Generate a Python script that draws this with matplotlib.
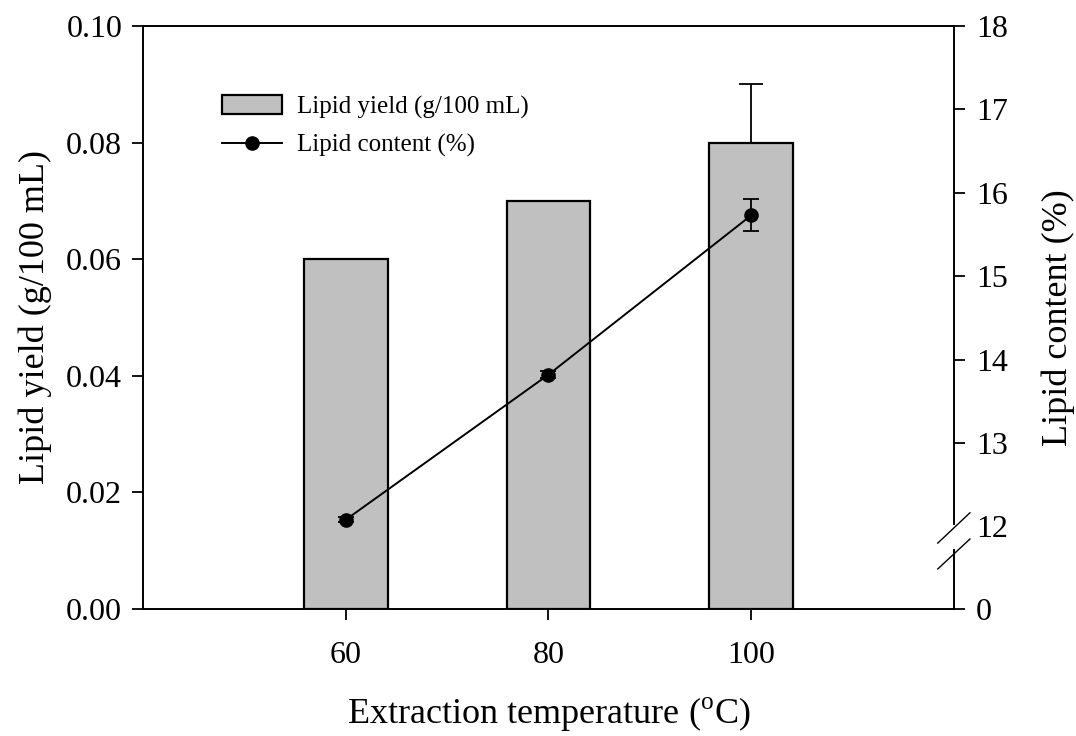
import numpy as np
import matplotlib
matplotlib.use('Agg')
import matplotlib.pyplot as plt
from matplotlib.lines import Line2D
from matplotlib.patches import Patch

plt.rcParams['font.family'] = ['Liberation Serif', 'DejaVu Serif']
plt.rcParams['mathtext.fontset'] = 'custom'
plt.rcParams['mathtext.rm'] = 'Liberation Serif'

# data
temps = [60, 80, 100]
yield_vals = [0.06, 0.07, 0.08]
yield_err = [0.0, 0.0, 0.01]
content_vals = [12.08, 13.82, 15.73]
content_err = [0.03, 0.04, 0.19]
right_ticks = [13, 14, 15, 16, 17, 18]

fig = plt.figure(figsize=(10.76, 7.36), dpi=100)
ax = fig.add_axes([0.1329, 0.1726, 0.7537, 0.7921])
ax2 = ax.twinx()

ax.bar(temps, yield_vals, width=8.25, color='#c0c0c0', edgecolor='black', linewidth=1.6, zorder=2)
ax.errorbar([temps[2]], [yield_vals[2]], yerr=[[0], [yield_err[2]]], fmt='none',
            ecolor='black', elinewidth=1.3, capsize=8.5, capthick=1.3, zorder=3)

ax.set_xlim(40, 120)
ax.set_ylim(0, 0.10)
ax.set_xticks(temps)
ax.set_yticks(np.arange(0, 0.101, 0.02))
ax.set_yticklabels([f'{v:.2f}' for v in np.arange(0, 0.101, 0.02)])
ax.tick_params(direction='out', length=8, width=1.3, labelsize=23, pad=7)
ax.tick_params(axis='x', pad=15)
ax.tick_params(axis='y', right=False)
for s in ['left', 'top', 'bottom']:
    ax.spines[s].set_linewidth(1.4)
ax.spines['right'].set_visible(False)
ax.set_xlabel(r'Extraction temperature ($^{\rm o}$C)', fontsize=26, labelpad=18)
ax.set_ylabel('Lipid yield (g/100 mL)', fontsize=26, labelpad=10)

# right axis with a break between 0 and 12
bottom_val = 11.01
ax2.errorbar(temps, content_vals, yerr=content_err, color='black', marker='o',
             markersize=9.5, linewidth=1.4, elinewidth=1.3, capsize=6, capthick=1.3, zorder=4)
ax2.set_ylim(bottom_val, 18)
ax2.set_yticks([bottom_val, 12] + right_ticks)
ax2.set_yticklabels(['0', '12'] + [str(t) for t in right_ticks])
ax2.tick_params(direction='out', length=8, width=1.3, labelsize=23, pad=8)
ax2.yaxis.get_major_ticks()[1].tick2line.set_visible(False)
ax2.set_ylabel('Lipid content (%)', fontsize=26, labelpad=24)
for s in ['left', 'top', 'bottom', 'right']:
    ax2.spines[s].set_visible(False)

kw = dict(transform=ax2.transAxes, color='black', linewidth=1.4, clip_on=False)
ax2.add_line(Line2D([1, 1], [0, 0.101], **kw))
ax2.add_line(Line2D([1, 1], [0.146, 1], **kw))
ax2.add_line(Line2D([0.980, 1.0197], [0.113, 0.165], linewidth=1.0, transform=ax2.transAxes,
                    color='black', clip_on=False))
ax2.add_line(Line2D([0.980, 1.0197], [0.0686, 0.120], linewidth=1.0, transform=ax2.transAxes,
                    color='black', clip_on=False))

handles = [Patch(facecolor='#c0c0c0', edgecolor='black', linewidth=1.6),
           Line2D([], [], color='black', marker='o', markersize=9.5, linewidth=1.4)]
ax2.legend(handles, ['Lipid yield (g/100 mL)', 'Lipid content (%)'], loc='upper left',
           bbox_to_anchor=(0.07, 0.92), frameon=False, fontsize=18, handlelength=2.4,
           handleheight=0.8, handletextpad=0.6, labelspacing=0.6)

fig.savefig('out.png', dpi=100)
